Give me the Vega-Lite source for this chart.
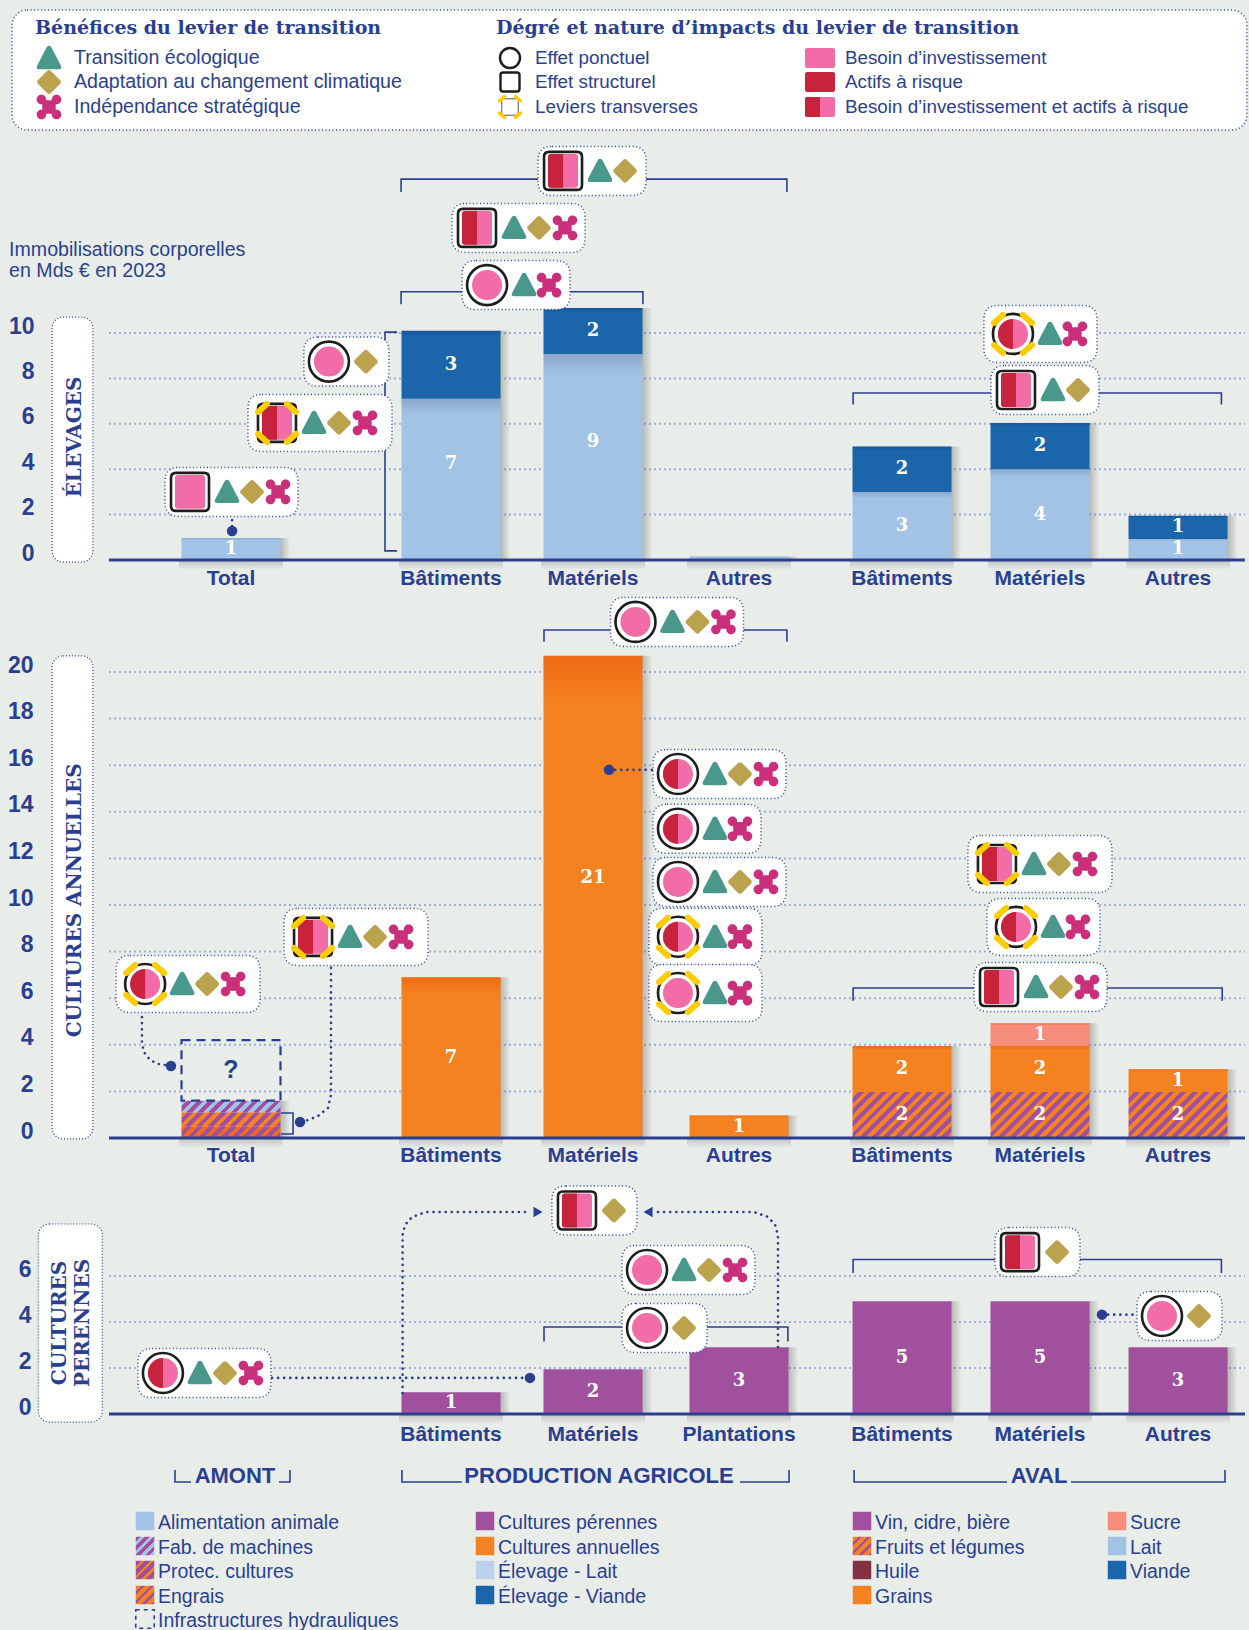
{"$schema":"https://vega.github.io/schema/vega-lite/v6.json","background":"#e9edea","padding":0,"spacing":0,"bounds":"flush","config":{"view":{"stroke":null},"legend":{"disable":true},"point":{"opacity":1},"square":{"opacity":1},"text":{"font":"Liberation Sans","fill":"#2a3f8f"}},
"datasets":{
"cadreH":[{"col":-0.0803,"end":3.377,"row":-0.6,"bas":3.92}],
"legendeHaut":[{"col":0,"row":0,"label":"Bénéfices du levier de transition","sym":"titre"},{"col":1,"row":0,"label":"Dégré et nature d’impacts du levier de transition","sym":"titre"},{"col":0,"row":1,"label":"Transition écologique","sym":"eco"},{"col":0,"row":2,"label":"Adaptation au changement climatique","sym":"adapt"},{"col":0,"row":3,"label":"Indépendance stratégique","sym":"indep"},{"col":1,"row":1,"label":"Effet ponctuel","sym":"ponctuel"},{"col":1,"row":2,"label":"Effet structurel","sym":"structurel"},{"col":1,"row":3,"label":"Leviers transverses","sym":"transverse"},{"col":2,"row":1,"label":"Besoin d’investissement","sym":"invest"},{"col":2,"row":2,"label":"Actifs à risque","sym":"risque"},{"col":2,"row":3,"label":"Besoin d’investissement et actifs à risque","sym":"mixte"}],
"noteE":[{"t":"Immobilisations corporelles","pos":-0.934,"val":13.66},{"t":"en Mds € en 2023","pos":-0.934,"val":12.73}],
"ticksE":[{"val":2,"pos":-0.5,"end":6.5},{"val":4,"pos":-0.5,"end":6.5},{"val":6,"pos":-0.5,"end":6.5},{"val":8,"pos":-0.5,"end":6.5},{"val":10,"pos":-0.5,"end":6.5}],
"ticksA":[{"val":2,"pos":-0.5,"end":6.5},{"val":4,"pos":-0.5,"end":6.5},{"val":6,"pos":-0.5,"end":6.5},{"val":8,"pos":-0.5,"end":6.5},{"val":10,"pos":-0.5,"end":6.5},{"val":12,"pos":-0.5,"end":6.5},{"val":14,"pos":-0.5,"end":6.5},{"val":16,"pos":-0.5,"end":6.5},{"val":18,"pos":-0.5,"end":6.5},{"val":20,"pos":-0.5,"end":6.5}],
"ticksP":[{"val":2,"pos":-0.5,"end":6.5},{"val":4,"pos":-0.5,"end":6.5},{"val":6,"pos":-0.5,"end":6.5}],
"axe":[{"val":0,"pos":-0.5,"end":6.5}],
"cadreE":[{"pos":-0.747,"end":-0.57,"val":-0.09,"top":10.7}],
"cadreA":[{"pos":-0.747,"end":-0.57,"val":-0.04,"top":20.69}],
"cadreP":[{"pos":-0.807,"end":-0.529,"val":-0.35,"top":8.26}],
"titreE":[{"t":"ÉLEVAGES","pos":-0.6475,"val":5.42}],
"titreA":[{"t":"CULTURES ANNUELLES","pos":-0.6475,"val":10.2}],
"titreP":[{"t":"CULTURES","pos":-0.713,"val":3.96},{"t":"PERENNES","pos":-0.611,"val":3.96}],
"barsE":[{"pos":0,"series":"Alimentation animale","k":1,"val":0.97,"label":"1"},{"pos":1,"series":"Élevage - Lait","k":1,"val":7.1,"label":"7"},{"pos":1,"series":"Élevage - Viande","k":2,"val":3,"label":"3"},{"pos":2,"series":"Élevage - Lait","k":1,"val":9.07,"label":"9"},{"pos":2,"series":"Élevage - Viande","k":2,"val":2.03,"label":"2"},{"pos":3,"series":"Élevage - Lait","k":1,"val":0.15,"label":""},{"pos":4,"series":"Lait","k":1,"val":3,"label":"3"},{"pos":4,"series":"Viande","k":2,"val":2,"label":"2"},{"pos":5,"series":"Lait","k":1,"val":4,"label":"4"},{"pos":5,"series":"Viande","k":2,"val":2.03,"label":"2"},{"pos":6,"series":"Lait","k":1,"val":0.93,"label":"1"},{"pos":6,"series":"Viande","k":2,"val":1.02,"label":"1"}],
"barsA":[{"pos":0,"series":"Engrais","k":1,"val":0.5,"label":""},{"pos":0,"series":"Protec. cultures","k":2,"val":0.6,"label":""},{"pos":0,"series":"Fab. de machines","k":3,"val":0.5,"label":""},{"pos":0,"series":"Infrastructures hydrauliques","k":4,"val":2.6,"label":"?"},{"pos":1,"series":"Cultures annuelles","k":1,"val":6.9,"label":"7"},{"pos":2,"series":"Cultures annuelles","k":1,"val":20.7,"label":"21"},{"pos":3,"series":"Cultures annuelles","k":1,"val":0.97,"label":"1"},{"pos":4,"series":"Fruits et légumes","k":1,"val":1.97,"label":"2"},{"pos":4,"series":"Grains","k":2,"val":1.98,"label":"2"},{"pos":5,"series":"Fruits et légumes","k":1,"val":1.97,"label":"2"},{"pos":5,"series":"Grains","k":2,"val":1.98,"label":"2"},{"pos":5,"series":"Sucre","k":3,"val":0.97,"label":"1"},{"pos":6,"series":"Fruits et légumes","k":1,"val":1.97,"label":"2"},{"pos":6,"series":"Grains","k":2,"val":0.98,"label":"1"}],
"barsP":[{"pos":1,"series":"Cultures pérennes","k":1,"val":0.95,"label":"1"},{"pos":2,"series":"Cultures pérennes","k":1,"val":1.95,"label":"2"},{"pos":3,"series":"Cultures pérennes","k":1,"val":2.9,"label":"3"},{"pos":4,"series":"Vin, cidre, bière","k":1,"val":4.9,"label":"5"},{"pos":5,"series":"Vin, cidre, bière","k":1,"val":4.9,"label":"5"},{"pos":6,"series":"Vin, cidre, bière","k":1,"val":2.9,"label":"3"}],
"catsE":[{"pos":0,"val":0,"name":"Total"},{"pos":1,"val":0,"name":"Bâtiments"},{"pos":2,"val":0,"name":"Matériels"},{"pos":3,"val":0,"name":"Autres"},{"pos":4,"val":0,"name":"Bâtiments"},{"pos":5,"val":0,"name":"Matériels"},{"pos":6,"val":0,"name":"Autres"}],
"catsP":[{"pos":1,"val":0,"name":"Bâtiments"},{"pos":2,"val":0,"name":"Matériels"},{"pos":3,"val":0,"name":"Plantations"},{"pos":4,"val":0,"name":"Bâtiments"},{"pos":5,"val":0,"name":"Matériels"},{"pos":6,"val":0,"name":"Autres"}],
"badgesE":[{"effect":"structurel","nature":"mixte","transverse":false,"kind":"n2","pos":1.789,"val":17.14,"b1":"eco","b2":"adapt"},{"effect":"structurel","nature":"mixte","transverse":false,"kind":"n3","pos":1.183,"val":14.63,"b1":"eco","b2":"adapt","b3":"indep"},{"effect":"ponctuel","nature":"invest","transverse":false,"kind":"n2","pos":1.254,"val":12.11,"b1":"eco","b2":"indep"},{"effect":"ponctuel","nature":"invest","transverse":false,"kind":"n1","pos":0.445,"val":8.74,"b1":"adapt"},{"effect":"structurel","nature":"mixte","transverse":true,"kind":"n3t","pos":0.209,"val":6.04,"b1":"eco","b2":"adapt","b3":"indep"},{"effect":"structurel","nature":"invest","transverse":false,"kind":"n3","pos":-0.168,"val":3,"b1":"eco","b2":"adapt","b3":"indep"},{"effect":"ponctuel","nature":"mixte","transverse":true,"kind":"n2t","pos":4.804,"val":9.96,"b1":"eco","b2":"indep"},{"effect":"structurel","nature":"mixte","transverse":false,"kind":"n2","pos":4.826,"val":7.49,"b1":"eco","b2":"adapt"}],
"badgesA":[{"effect":"ponctuel","nature":"invest","transverse":false,"kind":"n3","pos":2.291,"val":22.15,"b1":"eco","b2":"adapt","b3":"indep"},{"effect":"ponctuel","nature":"mixte","transverse":false,"kind":"n3","pos":2.582,"val":15.62,"b1":"eco","b2":"adapt","b3":"indep"},{"effect":"ponctuel","nature":"mixte","transverse":false,"kind":"n2","pos":2.582,"val":13.27,"b1":"eco","b2":"indep"},{"effect":"ponctuel","nature":"invest","transverse":false,"kind":"n3","pos":2.582,"val":10.99,"b1":"eco","b2":"adapt","b3":"indep"},{"effect":"ponctuel","nature":"mixte","transverse":true,"kind":"n2t","pos":2.582,"val":8.64,"b1":"eco","b2":"indep"},{"effect":"ponctuel","nature":"invest","transverse":true,"kind":"n2t","pos":2.582,"val":6.22,"b1":"eco","b2":"indep"},{"effect":"structurel","nature":"mixte","transverse":true,"kind":"n3t","pos":4.688,"val":11.76,"b1":"eco","b2":"adapt","b3":"indep"},{"effect":"ponctuel","nature":"mixte","transverse":true,"kind":"n2t","pos":4.826,"val":9.06,"b1":"eco","b2":"indep"},{"effect":"structurel","nature":"mixte","transverse":false,"kind":"n3","pos":4.703,"val":6.48,"b1":"eco","b2":"adapt","b3":"indep"},{"effect":"ponctuel","nature":"mixte","transverse":true,"kind":"n3t","pos":-0.352,"val":6.61,"b1":"eco","b2":"adapt","b3":"indep"},{"effect":"structurel","nature":"mixte","transverse":true,"kind":"n3t","pos":0.373,"val":8.63,"b1":"eco","b2":"adapt","b3":"indep"}],
"badgesP":[{"effect":"structurel","nature":"mixte","transverse":false,"kind":"n1","pos":1.887,"val":8.85,"b1":"adapt"},{"effect":"ponctuel","nature":"invest","transverse":false,"kind":"n3","pos":2.37,"val":6.26,"b1":"eco","b2":"adapt","b3":"indep"},{"effect":"ponctuel","nature":"invest","transverse":false,"kind":"n1","pos":2.37,"val":3.74,"b1":"adapt"},{"effect":"ponctuel","nature":"mixte","transverse":false,"kind":"n3","pos":-0.279,"val":1.78,"b1":"eco","b2":"adapt","b3":"indep"},{"effect":"structurel","nature":"mixte","transverse":false,"kind":"n1","pos":4.855,"val":7.04,"b1":"adapt"},{"effect":"ponctuel","nature":"invest","transverse":false,"kind":"n1","pos":5.884,"val":4.26,"b1":"adapt"}],
"brE":[{"id":"a","n":1,"pos":0.773,"val":16.21},{"id":"a","n":2,"pos":0.773,"val":16.78},{"id":"a","n":3,"pos":3.294,"val":16.78},{"id":"a","n":4,"pos":3.294,"val":16.21},{"id":"b","n":1,"pos":0.773,"val":11.27},{"id":"b","n":2,"pos":0.773,"val":11.82},{"id":"b","n":3,"pos":2.342,"val":11.82},{"id":"b","n":4,"pos":2.342,"val":11.27},{"id":"c","n":1,"pos":3.7,"val":6.85},{"id":"c","n":2,"pos":3.7,"val":7.36},{"id":"c","n":3,"pos":6.324,"val":7.36},{"id":"c","n":4,"pos":6.324,"val":6.85},{"id":"d","n":1,"pos":0.755,"val":10.04},{"id":"d","n":2,"pos":0.7,"val":10.04},{"id":"d","n":3,"pos":0.7,"val":0.4},{"id":"d","n":4,"pos":0.755,"val":0.4}],
"brA":[{"id":"a","n":1,"pos":1.655,"val":21.3},{"id":"a","n":2,"pos":1.655,"val":21.8},{"id":"a","n":3,"pos":3.294,"val":21.8},{"id":"a","n":4,"pos":3.294,"val":21.3},{"id":"b","n":1,"pos":3.7,"val":5.89},{"id":"b","n":2,"pos":3.7,"val":6.44},{"id":"b","n":3,"pos":6.33,"val":6.44},{"id":"b","n":4,"pos":6.33,"val":5.89},{"id":"c","n":1,"pos":0.227,"val":1.07},{"id":"c","n":2,"pos":0.282,"val":1.07},{"id":"c","n":3,"pos":0.282,"val":0.17},{"id":"c","n":4,"pos":0.227,"val":0.17}],
"brP":[{"id":"a","n":1,"pos":1.655,"val":3.15},{"id":"a","n":2,"pos":1.655,"val":3.78},{"id":"a","n":3,"pos":3.3,"val":3.78},{"id":"a","n":4,"pos":3.3,"val":3.15},{"id":"b","n":1,"pos":3.7,"val":6.13},{"id":"b","n":2,"pos":3.7,"val":6.72},{"id":"b","n":3,"pos":6.324,"val":6.72},{"id":"b","n":4,"pos":6.324,"val":6.13}],
"linkE":[{"id":"a","n":1,"pos":0.005,"val":1.76},{"id":"a","n":2,"pos":0.005,"val":1.28}],
"linkA":[{"id":"a","n":1,"pos":-0.365,"val":5.19},{"id":"a","n":2,"pos":-0.365,"val":4.08},{"id":"a","n":3,"pos":-0.357,"val":3.69},{"id":"a","n":4,"pos":-0.332,"val":3.35},{"id":"a","n":5,"pos":-0.299,"val":3.18},{"id":"a","n":6,"pos":-0.246,"val":3.09},{"id":"b","n":1,"pos":0.4545,"val":7.3},{"id":"b","n":2,"pos":0.4545,"val":1.85},{"id":"b","n":3,"pos":0.441,"val":1.29},{"id":"b","n":4,"pos":0.395,"val":0.94},{"id":"b","n":5,"pos":0.35,"val":0.77},{"id":"b","n":6,"pos":0.314,"val":0.69},{"id":"c","n":1,"pos":2.11,"val":15.8},{"id":"c","n":2,"pos":2.41,"val":15.8}],
"linkP":[{"id":"a","n":1,"pos":0.186,"val":1.57},{"id":"a","n":2,"pos":1.556,"val":1.57},{"id":"b","n":1,"pos":0.78,"val":0.91},{"id":"b","n":2,"pos":0.78,"val":7.78},{"id":"b","n":3,"pos":0.791,"val":8.22},{"id":"b","n":4,"pos":0.823,"val":8.57},{"id":"b","n":5,"pos":0.886,"val":8.78},{"id":"b","n":6,"pos":1.556,"val":8.78},{"id":"c","n":1,"pos":3.239,"val":2.91},{"id":"c","n":2,"pos":3.239,"val":7.78},{"id":"c","n":3,"pos":3.221,"val":8.22},{"id":"c","n":4,"pos":3.178,"val":8.57},{"id":"c","n":5,"pos":3.092,"val":8.78},{"id":"c","n":6,"pos":2.425,"val":8.78},{"id":"d","n":1,"pos":5.449,"val":4.32},{"id":"d","n":2,"pos":5.674,"val":4.32}],
"dotE":[{"pos":0.005,"val":1.28,"mk":"circle"}],
"dotA":[{"pos":-0.246,"val":3.09,"mk":"circle"},{"pos":0.314,"val":0.69,"mk":"circle"},{"pos":2.11,"val":15.8,"mk":"circle"}],
"dotP":[{"pos":1.556,"val":1.57,"mk":"circle"},{"pos":5.449,"val":4.32,"mk":"circle"},{"pos":1.613,"val":8.78,"mk":"triangle-right"},{"pos":2.377,"val":8.78,"mk":"triangle-left"}],
"filieres":[{"pos":0.018,"val":0.5,"name":"AMONT"},{"pos":2.041,"val":0.5,"name":"PRODUCTION AGRICOLE"},{"pos":4.993,"val":0.5,"name":"AVAL"}],
"brF":[{"id":"a","n":1,"pos":-0.2295,"val":1},{"id":"a","n":2,"pos":-0.2295,"val":0},{"id":"a","n":3,"pos":-0.164,"val":0},{"id":"b","n":1,"pos":0.218,"val":0},{"id":"b","n":2,"pos":0.268,"val":0},{"id":"b","n":3,"pos":0.268,"val":1},{"id":"c","n":1,"pos":0.777,"val":1},{"id":"c","n":2,"pos":0.777,"val":0},{"id":"c","n":3,"pos":1.077,"val":0},{"id":"d","n":1,"pos":3.006,"val":0},{"id":"d","n":2,"pos":3.307,"val":0},{"id":"d","n":3,"pos":3.307,"val":1},{"id":"e","n":1,"pos":3.706,"val":1},{"id":"e","n":2,"pos":3.706,"val":0},{"id":"e","n":3,"pos":4.761,"val":0},{"id":"f","n":1,"pos":5.225,"val":0},{"id":"f","n":2,"pos":6.331,"val":0},{"id":"f","n":3,"pos":6.331,"val":1}],
"legendeBas":[{"col":0,"row":0,"series":"Alimentation animale"},{"col":0,"row":1,"series":"Fab. de machines"},{"col":0,"row":2,"series":"Protec. cultures"},{"col":0,"row":3,"series":"Engrais"},{"col":0,"row":4,"series":"Infrastructures hydrauliques"},{"col":1,"row":0,"series":"Cultures pérennes"},{"col":1,"row":1,"series":"Cultures annuelles"},{"col":1,"row":2,"series":"Élevage - Lait"},{"col":1,"row":3,"series":"Élevage - Viande"},{"col":2,"row":0,"series":"Vin, cidre, bière"},{"col":2,"row":1,"series":"Fruits et légumes"},{"col":2,"row":2,"series":"Huile"},{"col":2,"row":3,"series":"Grains"},{"col":3,"row":0,"series":"Sucre"},{"col":3,"row":1,"series":"Lait"},{"col":3,"row":2,"series":"Viande"}]
},
"vconcat":[
{"width":1249,"height":140,"encoding":{"x":{"field":"col","type":"quantitative","axis":null,"scale":{"domain":[-0.1,0,1,2,3.4],"range":[3,49,510,820,1254],"nice":false,"zero":false}},"y":{"field":"row","type":"quantitative","axis":null,"scale":{"domain":[-1,0,1,2,3,4],"range":[-2,28,58,82,107,132],"nice":false,"zero":false}}},
"layer":[
{"data":{"name":"cadreH"},"mark":{"type":"rect","fill":"#fff","stroke":"#2a3f8f","strokeWidth":1.5,"strokeDash":[1,2.5],"cornerRadius":15},"encoding":{"x2":{"field":"end"},"y2":{"field":"bas"}}},
{"data":{"name":"legendeHaut"},"transform":[{"filter":"datum.sym==='titre'"}],"mark":{"type":"text","align":"left","dx":-14,"font":"DejaVu Serif","fontWeight":"bold","fontSize":19},"encoding":{"text":{"field":"label","type":"nominal"}}},
{"data":{"name":"legendeHaut"},"transform":[{"filter":"datum.sym!=='titre'&&datum.col===0"}],"mark":{"type":"text","align":"left","dx":25,"fontSize":19.6},"encoding":{"text":{"field":"label","type":"nominal"}}},
{"data":{"name":"legendeHaut"},"transform":[{"filter":"datum.sym!=='titre'&&datum.col>0"}],"mark":{"type":"text","align":"left","dx":25,"fontSize":18.8},"encoding":{"text":{"field":"label","type":"nominal"}}},
{"data":{"name":"legendeHaut"},"transform":[{"filter":"datum.sym==='eco'||datum.sym==='adapt'||datum.sym==='indep'"}],"mark":{"type":"point","filled":true,"size":784},"encoding":{"color":{"field":"sym","type":"nominal","scale":{"domain":["eco","adapt","indep"],"range":["#4a978c","#bba24d","#c92f7a"]}},"shape":{"field":"sym","type":"nominal","scale":{"domain":["eco","adapt","indep","ponctuel","structurel","n1","n2","n3","n2t","n3t"],"range":["M-0.15,-0.8 Q0,-0.95 0.15,-0.8 L0.85,0.55 Q0.95,0.8 0.7,0.8 L-0.7,0.8 Q-0.95,0.8 -0.85,0.55 Z","M-0.12,-0.8 Q0,-0.9 0.12,-0.8 L0.8,-0.12 Q0.9,0 0.8,0.12 L0.12,0.8 Q0,0.9 -0.12,0.8 L-0.8,0.12 Q-0.9,0 -0.8,-0.12 Z","M-0.48,-0.48 H0.48 V0.48 H-0.48 Z M0.2,-0.54 a0.34,0.34 0 1 1 0.68,0 a0.34,0.34 0 1 1 -0.68,0 Z M-0.88,-0.54 a0.34,0.34 0 1 1 0.68,0 a0.34,0.34 0 1 1 -0.68,0 Z M0.2,0.54 a0.34,0.34 0 1 1 0.68,0 a0.34,0.34 0 1 1 -0.68,0 Z M-0.88,0.54 a0.34,0.34 0 1 1 0.68,0 a0.34,0.34 0 1 1 -0.68,0 Z","circle","M-0.7,-0.95 H0.7 Q0.95,-0.95 0.95,-0.7 V0.7 Q0.95,0.95 0.7,0.95 H-0.7 Q-0.95,0.95 -0.95,0.7 V-0.7 Q-0.95,-0.95 -0.7,-0.95 Z","M-0.22,-0.49 H0.92 Q1.2,-0.49 1.2,-0.21 V0.21 Q1.2,0.49 0.92,0.49 H-0.22 Q-0.5,0.49 -0.5,0.21 V-0.21 Q-0.5,-0.49 -0.22,-0.49 Z","M-0.22,-0.49 H1.38 Q1.66,-0.49 1.66,-0.21 V0.21 Q1.66,0.49 1.38,0.49 H-0.22 Q-0.5,0.49 -0.5,0.21 V-0.21 Q-0.5,-0.49 -0.22,-0.49 Z","M-0.22,-0.49 H1.88 Q2.16,-0.49 2.16,-0.21 V0.21 Q2.16,0.49 1.88,0.49 H-0.22 Q-0.5,0.49 -0.5,0.21 V-0.21 Q-0.5,-0.49 -0.22,-0.49 Z","M-0.3,-0.57 H1.4 Q1.68,-0.57 1.68,-0.29 V0.29 Q1.68,0.57 1.4,0.57 H-0.3 Q-0.58,0.57 -0.58,0.29 V-0.29 Q-0.58,-0.57 -0.3,-0.57 Z","M-0.3,-0.57 H2.02 Q2.3,-0.57 2.3,-0.29 V0.29 Q2.3,0.57 2.02,0.57 H-0.3 Q-0.58,0.57 -0.58,0.29 V-0.29 Q-0.58,-0.57 -0.3,-0.57 Z"]}}}},
{"data":{"name":"legendeHaut"},"transform":[{"filter":"datum.sym==='ponctuel'||datum.sym==='structurel'"}],"mark":{"type":"point","filled":true,"size":400,"fill":"#fff","stroke":"#1d1d1b","strokeWidth":2.4},"encoding":{"shape":{"field":"sym","type":"nominal"}}},
{"data":{"name":"legendeHaut"},"transform":[{"filter":"datum.sym==='transverse'"}],"mark":{"type":"point","filled":true,"size":300,"fill":"#fff","stroke":"#555555","strokeWidth":1,"shape":"M-0.95,-0.95 H0.95 V0.95 H-0.95 Z"}},
{"data":{"name":"legendeHaut"},"transform":[{"filter":"datum.sym==='transverse'"}],"mark":{"type":"point","filled":false,"size":484,"stroke":"#ffcc00","strokeWidth":3.5,"strokeCap":"round","shape":"M-0.95,-0.55 L-0.5,-0.95 M0.5,-0.95 L0.95,-0.55 M0.95,0.55 L0.5,0.95 M-0.5,0.95 L-0.95,0.55"}},
{"data":{"name":"legendeHaut"},"transform":[{"filter":"datum.sym==='invest'||datum.sym==='mixte'"}],"mark":{"type":"point","filled":true,"size":400,"fill":"#f26ca7","shape":"M-1.3,-1 H1.3 Q1.5,-1 1.5,-0.8 V0.8 Q1.5,1 1.3,1 H-1.3 Q-1.5,1 -1.5,0.8 V-0.8 Q-1.5,-1 -1.3,-1 Z"}},
{"data":{"name":"legendeHaut"},"transform":[{"filter":"datum.sym==='risque'"}],"mark":{"type":"point","filled":true,"size":400,"fill":"#c8233c","shape":"M-1.3,-1 H1.3 Q1.5,-1 1.5,-0.8 V0.8 Q1.5,1 1.3,1 H-1.3 Q-1.5,1 -1.5,0.8 V-0.8 Q-1.5,-1 -1.3,-1 Z"}},
{"data":{"name":"legendeHaut"},"transform":[{"filter":"datum.sym==='mixte'"}],"mark":{"type":"point","filled":true,"size":400,"fill":"#c8233c","shape":"M0,-1 H-1.3 Q-1.5,-1 -1.5,-0.8 V0.8 Q-1.5,1 -1.3,1 H0 Z"}}
]},
{"width":1249,"height":460,"encoding":{"x":{"field":"pos","type":"quantitative","axis":null,"scale":{"domain":[-1,-0.5,0,1,2,3,4,5,6,6.5],"range":[-13,109,231,451,593,739,902,1040,1178,1249],"nice":false,"zero":false}},"y":{"field":"val","type":"quantitative","scale":{"domain":[0,10],"range":[420,193],"nice":false,"zero":false},"axis":{"values":[0,2,4,6,8,10],"title":null,"grid":false,"domain":false,"ticks":false,"offset":-34,"labelPadding":0,"labelOffset":-7,"labelFont":"Liberation Sans","labelFontWeight":"bold","labelFontSize":23,"labelColor":"#2a3f8f","labelFlush":false,"labelOverlap":false}}},
"layer":[
{"data":{"name":"noteE"},"mark":{"type":"text","align":"left","fontSize":19.6},"encoding":{"text":{"field":"t","type":"nominal"}}},
{"data":{"name":"ticksE"},"mark":{"type":"rule","stroke":"#a0aedd","strokeWidth":2,"strokeDash":[2,3]},"encoding":{"x2":{"field":"end"}}},
{"data":{"name":"cadreE"},"mark":{"type":"rect","fill":"#fff","stroke":"#2a3f8f","strokeWidth":1.2,"strokeDash":[1,2],"cornerRadius":11},"encoding":{"x2":{"field":"end"},"y2":{"field":"top"}}},
{"data":{"name":"titreE"},"mark":{"type":"text","angle":270,"font":"DejaVu Serif","fontWeight":"bold","fontSize":20},"encoding":{"text":{"field":"t","type":"nominal"}}},
{"data":{"name":"catsE"},"mark":{"type":"rect","width":104,"height":10,"yOffset":5,"fill":{"gradient":"linear","x1":0,"y1":0,"x2":0,"y2":1,"stops":[{"offset":0,"color":"rgba(70,70,60,0.25)"},{"offset":1,"color":"rgba(70,70,60,0)"}]}}},
{"data":{"name":"barsE"},"mark":{"type":"bar","size":119,"fill":{"gradient":"linear","x1":0,"y1":0,"x2":1,"y2":0,"stops":[{"offset":0,"color":"rgba(70,70,60,0)"},{"offset":0.915,"color":"rgba(70,70,60,0)"},{"offset":0.915,"color":"rgba(70,70,60,0.32)"},{"offset":1,"color":"rgba(70,70,60,0)"}]}},"encoding":{"y":{"field":"val","stack":"zero"},"order":{"field":"k"},"detail":{"field":"series"}}},
{"data":{"name":"barsE"},"mark":{"type":"bar","size":99},"encoding":{"y":{"field":"val","stack":"zero"},"order":{"field":"k"},"detail":{"field":"series"},"fill":{"field":"series","type":"nominal","scale":{"domain":["Alimentation animale","Élevage - Lait","Élevage - Viande","Lait","Viande","Cultures annuelles","Grains","Sucre","Cultures pérennes","Vin, cidre, bière","Huile","Infrastructures hydrauliques","Fruits et légumes","Engrais","Protec. cultures","Fab. de machines"],"range":["#a3c3e6","#a3c3e6","#1b65aa","#a3c3e6","#1b65aa","#f58220","#f58220","#f68c7a","#a0509d","#a0509d","#823343","transparent","#f58220","#f58220","#a0509d","#a0509d"]}}}},
{"data":{"name":"barsE"},"mark":{"type":"bar","size":99,"fill":{"gradient":"linear","x1":0,"y1":0,"x2":0,"y2":1,"stops":[{"offset":0,"color":"rgba(0,0,40,0.14)"},{"offset":0.1,"color":"rgba(0,0,40,0)"},{"offset":1,"color":"rgba(0,0,40,0)"}]}},"encoding":{"y":{"field":"val","stack":"zero"},"order":{"field":"k"},"detail":{"field":"series"}}},
{"data":{"name":"axe"},"mark":{"type":"rule","stroke":"#2a3f8f","strokeWidth":3},"encoding":{"x2":{"field":"end"}}},
{"data":{"name":"brE"},"mark":{"type":"line","stroke":"#2a3f8f","strokeWidth":1.6},"encoding":{"detail":{"field":"id"},"order":{"field":"n"}}},
{"data":{"name":"linkE"},"mark":{"type":"line","stroke":"#2a3f8f","strokeWidth":2.6,"strokeDash":[0.1,6],"strokeCap":"round"},"encoding":{"detail":{"field":"id"},"order":{"field":"n"}}},
{"data":{"name":"dotE"},"mark":{"type":"point","filled":true,"size":110,"fill":"#2a3f8f"},"encoding":{"shape":{"field":"mk","type":"nominal","scale":null}}},
{"data":{"name":"badgesE"},"mark":{"type":"point","filled":true,"size":10000,"fill":"#fff","stroke":"#2a3f8f","strokeWidth":1.5,"strokeDash":[1,2.5]},"encoding":{"shape":{"field":"kind","type":"nominal"}}},
{"data":{"name":"badgesE"},"mark":{"type":"point","filled":true,"size":1600,"fill":"#fff","stroke":"#1d1d1b","strokeWidth":2.6},"encoding":{"shape":{"field":"effect","type":"nominal"}}},
{"data":{"name":"badgesE"},"transform":[{"filter":"datum.effect==='ponctuel'"}],"mark":{"type":"point","filled":true,"size":900,"fill":"#f26ca7","shape":"circle"}},
{"data":{"name":"badgesE"},"transform":[{"filter":"datum.effect==='structurel'"}],"mark":{"type":"point","filled":true,"size":900,"fill":"#f26ca7","shape":"M-0.8,-1.13 H0.8 Q1,-1.13 1,-0.93 V0.93 Q1,1.13 0.8,1.13 H-0.8 Q-1,1.13 -1,0.93 V-0.93 Q-1,-1.13 -0.8,-1.13 Z"}},
{"data":{"name":"badgesE"},"transform":[{"filter":"datum.effect==='ponctuel'&&datum.nature==='mixte'"}],"mark":{"type":"point","filled":true,"size":900,"fill":"#c8233c","shape":"M0,-1 A1,1 0 0 0 0,1 Z"}},
{"data":{"name":"badgesE"},"transform":[{"filter":"datum.effect==='structurel'&&datum.nature==='mixte'"}],"mark":{"type":"point","filled":true,"size":900,"fill":"#c8233c","shape":"M0,-1.13 H-0.8 Q-1,-1.13 -1,-0.93 V0.93 Q-1,1.13 -0.8,1.13 H0 Z"}},
{"data":{"name":"badgesE"},"transform":[{"filter":"datum.transverse"}],"mark":{"type":"point","filled":false,"size":1600,"stroke":"#ffcc00","strokeWidth":6,"strokeCap":"round","shape":"M-0.95,-0.55 L-0.5,-0.95 M0.5,-0.95 L0.95,-0.55 M0.95,0.55 L0.5,0.95 M-0.5,0.95 L-0.95,0.55"}},
{"data":{"name":"badgesE"},"mark":{"type":"point","filled":true,"size":784,"xOffset":37},"encoding":{"shape":{"field":"b1","type":"nominal"},"color":{"field":"b1","type":"nominal"}}},
{"data":{"name":"badgesE"},"transform":[{"filter":"datum.b2"}],"mark":{"type":"point","filled":true,"size":784,"xOffset":62},"encoding":{"shape":{"field":"b2","type":"nominal"},"color":{"field":"b2","type":"nominal"}}},
{"data":{"name":"badgesE"},"transform":[{"filter":"datum.b3"}],"mark":{"type":"point","filled":true,"size":784,"xOffset":88},"encoding":{"shape":{"field":"b3","type":"nominal"},"color":{"field":"b3","type":"nominal"}}},
{"data":{"name":"barsE"},"mark":{"type":"text","fill":"#fff","font":"DejaVu Serif","fontWeight":"bold","fontSize":18},"encoding":{"y":{"field":"val","stack":"zero","bandPosition":0.5},"order":{"field":"k"},"detail":{"field":"series"},"text":{"condition":{"test":"datum.val>7","value":""},"field":"label","type":"nominal"}}},
{"data":{"name":"barsE"},"transform":[{"filter":"datum.val>7"}],"mark":{"type":"text","fill":"#fff","dy":-15,"font":"DejaVu Serif","fontWeight":"bold","fontSize":18},"encoding":{"y":{"field":"val","stack":"zero","bandPosition":0.5},"order":{"field":"k"},"detail":{"field":"series"},"text":{"field":"label","type":"nominal"}}},
{"data":{"name":"catsE"},"mark":{"type":"text","dy":19,"fontWeight":"bold","fontSize":21},"encoding":{"text":{"field":"name","type":"nominal"}}}
]},
{"width":1249,"height":570,"encoding":{"x":{"field":"pos","type":"quantitative","axis":null,"scale":{"domain":[-1,-0.5,0,1,2,3,4,5,6,6.5],"range":[-13,109,231,451,593,739,902,1040,1178,1249],"nice":false,"zero":false}},"y":{"field":"val","type":"quantitative","scale":{"domain":[0,20],"range":[538,72],"nice":false,"zero":false},"axis":{"values":[0,2,4,6,8,10,12,14,16,18,20],"title":null,"grid":false,"domain":false,"ticks":false,"offset":-33,"labelPadding":0,"labelOffset":-7,"labelFont":"Liberation Sans","labelFontWeight":"bold","labelFontSize":23,"labelColor":"#2a3f8f","labelFlush":false,"labelOverlap":false}}},
"layer":[
{"data":{"name":"ticksA"},"mark":{"type":"rule","stroke":"#a0aedd","strokeWidth":2,"strokeDash":[2,3]},"encoding":{"x2":{"field":"end"}}},
{"data":{"name":"cadreA"},"mark":{"type":"rect","fill":"#fff","stroke":"#2a3f8f","strokeWidth":1.2,"strokeDash":[1,2],"cornerRadius":11},"encoding":{"x2":{"field":"end"},"y2":{"field":"top"}}},
{"data":{"name":"titreA"},"mark":{"type":"text","angle":270,"font":"DejaVu Serif","fontWeight":"bold","fontSize":20},"encoding":{"text":{"field":"t","type":"nominal"}}},
{"data":{"name":"catsE"},"mark":{"type":"rect","width":104,"height":10,"yOffset":5,"fill":{"gradient":"linear","x1":0,"y1":0,"x2":0,"y2":1,"stops":[{"offset":0,"color":"rgba(70,70,60,0.25)"},{"offset":1,"color":"rgba(70,70,60,0)"}]}}},
{"data":{"name":"barsA"},"transform":[{"filter":"datum.k<4"}],"mark":{"type":"bar","size":119,"fill":{"gradient":"linear","x1":0,"y1":0,"x2":1,"y2":0,"stops":[{"offset":0,"color":"rgba(70,70,60,0)"},{"offset":0.915,"color":"rgba(70,70,60,0)"},{"offset":0.915,"color":"rgba(70,70,60,0.32)"},{"offset":1,"color":"rgba(70,70,60,0)"}]}},"encoding":{"y":{"field":"val","stack":"zero"},"order":{"field":"k"},"detail":{"field":"series"}}},
{"data":{"name":"barsA"},"mark":{"type":"bar","size":99,"strokeWidth":2.2,"strokeDash":[9,6]},"encoding":{"y":{"field":"val","stack":"zero"},"order":{"field":"k"},"detail":{"field":"series"},"stroke":{"condition":{"test":"datum.series==='Infrastructures hydrauliques'","value":"#2a3f8f"},"value":null},"fill":{"condition":[
{"test":"datum.series==='Fruits et légumes'","value":{"gradient":"linear","x1":0,"y1":0,"x2":1.2045,"y2":0.5596,"stops":[{"offset":0,"color":"#f58220"},{"offset":0.04,"color":"#f58220"},{"offset":0.04,"color":"#a0509d"},{"offset":0.08,"color":"#a0509d"},{"offset":0.08,"color":"#f58220"},{"offset":0.12,"color":"#f58220"},{"offset":0.12,"color":"#a0509d"},{"offset":0.16,"color":"#a0509d"},{"offset":0.16,"color":"#f58220"},{"offset":0.2,"color":"#f58220"},{"offset":0.2,"color":"#a0509d"},{"offset":0.24,"color":"#a0509d"},{"offset":0.24,"color":"#f58220"},{"offset":0.28,"color":"#f58220"},{"offset":0.28,"color":"#a0509d"},{"offset":0.32,"color":"#a0509d"},{"offset":0.32,"color":"#f58220"},{"offset":0.36,"color":"#f58220"},{"offset":0.36,"color":"#a0509d"},{"offset":0.4,"color":"#a0509d"},{"offset":0.4,"color":"#f58220"},{"offset":0.44,"color":"#f58220"},{"offset":0.44,"color":"#a0509d"},{"offset":0.48,"color":"#a0509d"},{"offset":0.48,"color":"#f58220"},{"offset":0.52,"color":"#f58220"},{"offset":0.52,"color":"#a0509d"},{"offset":0.56,"color":"#a0509d"},{"offset":0.56,"color":"#f58220"},{"offset":0.6,"color":"#f58220"},{"offset":0.6,"color":"#a0509d"},{"offset":0.64,"color":"#a0509d"},{"offset":0.64,"color":"#f58220"},{"offset":0.68,"color":"#f58220"},{"offset":0.68,"color":"#a0509d"},{"offset":0.72,"color":"#a0509d"},{"offset":0.72,"color":"#f58220"},{"offset":0.76,"color":"#f58220"},{"offset":0.76,"color":"#a0509d"},{"offset":0.8,"color":"#a0509d"},{"offset":0.8,"color":"#f58220"},{"offset":0.84,"color":"#f58220"},{"offset":0.84,"color":"#a0509d"},{"offset":0.88,"color":"#a0509d"},{"offset":0.88,"color":"#f58220"},{"offset":0.92,"color":"#f58220"},{"offset":0.92,"color":"#a0509d"},{"offset":0.96,"color":"#a0509d"},{"offset":0.96,"color":"#f58220"},{"offset":1,"color":"#f58220"}]}},
{"test":"datum.series==='Engrais'","value":{"gradient":"linear","x1":0,"y1":0,"x2":1.1026,"y2":0.13,"stops":[{"offset":0,"color":"#f26a1b"},{"offset":0.05,"color":"#f26a1b"},{"offset":0.05,"color":"#a0509d"},{"offset":0.1,"color":"#a0509d"},{"offset":0.1,"color":"#f26a1b"},{"offset":0.15,"color":"#f26a1b"},{"offset":0.15,"color":"#a0509d"},{"offset":0.2,"color":"#a0509d"},{"offset":0.2,"color":"#f26a1b"},{"offset":0.25,"color":"#f26a1b"},{"offset":0.25,"color":"#a0509d"},{"offset":0.3,"color":"#a0509d"},{"offset":0.3,"color":"#f26a1b"},{"offset":0.35,"color":"#f26a1b"},{"offset":0.35,"color":"#a0509d"},{"offset":0.4,"color":"#a0509d"},{"offset":0.4,"color":"#f26a1b"},{"offset":0.45,"color":"#f26a1b"},{"offset":0.45,"color":"#a0509d"},{"offset":0.5,"color":"#a0509d"},{"offset":0.5,"color":"#f26a1b"},{"offset":0.55,"color":"#f26a1b"},{"offset":0.55,"color":"#a0509d"},{"offset":0.6,"color":"#a0509d"},{"offset":0.6,"color":"#f26a1b"},{"offset":0.65,"color":"#f26a1b"},{"offset":0.65,"color":"#a0509d"},{"offset":0.7,"color":"#a0509d"},{"offset":0.7,"color":"#f26a1b"},{"offset":0.75,"color":"#f26a1b"},{"offset":0.75,"color":"#a0509d"},{"offset":0.8,"color":"#a0509d"},{"offset":0.8,"color":"#f26a1b"},{"offset":0.85,"color":"#f26a1b"},{"offset":0.85,"color":"#a0509d"},{"offset":0.9,"color":"#a0509d"},{"offset":0.9,"color":"#f26a1b"},{"offset":0.95,"color":"#f26a1b"},{"offset":0.95,"color":"#a0509d"},{"offset":1,"color":"#a0509d"}]}},
{"test":"datum.series==='Protec. cultures'","value":{"gradient":"linear","x1":0,"y1":0,"x2":1.1187,"y2":0.158,"stops":[{"offset":0,"color":"#f58220"},{"offset":0.05,"color":"#f58220"},{"offset":0.05,"color":"#a0509d"},{"offset":0.1,"color":"#a0509d"},{"offset":0.1,"color":"#f58220"},{"offset":0.15,"color":"#f58220"},{"offset":0.15,"color":"#a0509d"},{"offset":0.2,"color":"#a0509d"},{"offset":0.2,"color":"#f58220"},{"offset":0.25,"color":"#f58220"},{"offset":0.25,"color":"#a0509d"},{"offset":0.3,"color":"#a0509d"},{"offset":0.3,"color":"#f58220"},{"offset":0.35,"color":"#f58220"},{"offset":0.35,"color":"#a0509d"},{"offset":0.4,"color":"#a0509d"},{"offset":0.4,"color":"#f58220"},{"offset":0.45,"color":"#f58220"},{"offset":0.45,"color":"#a0509d"},{"offset":0.5,"color":"#a0509d"},{"offset":0.5,"color":"#f58220"},{"offset":0.55,"color":"#f58220"},{"offset":0.55,"color":"#a0509d"},{"offset":0.6,"color":"#a0509d"},{"offset":0.6,"color":"#f58220"},{"offset":0.65,"color":"#f58220"},{"offset":0.65,"color":"#a0509d"},{"offset":0.7,"color":"#a0509d"},{"offset":0.7,"color":"#f58220"},{"offset":0.75,"color":"#f58220"},{"offset":0.75,"color":"#a0509d"},{"offset":0.8,"color":"#a0509d"},{"offset":0.8,"color":"#f58220"},{"offset":0.85,"color":"#f58220"},{"offset":0.85,"color":"#a0509d"},{"offset":0.9,"color":"#a0509d"},{"offset":0.9,"color":"#f58220"},{"offset":0.95,"color":"#f58220"},{"offset":0.95,"color":"#a0509d"},{"offset":1,"color":"#a0509d"}]}},
{"test":"datum.series==='Fab. de machines'","value":{"gradient":"linear","x1":0,"y1":0,"x2":1.1026,"y2":0.13,"stops":[{"offset":0,"color":"#a3c3e6"},{"offset":0.05,"color":"#a3c3e6"},{"offset":0.05,"color":"#a0509d"},{"offset":0.1,"color":"#a0509d"},{"offset":0.1,"color":"#a3c3e6"},{"offset":0.15,"color":"#a3c3e6"},{"offset":0.15,"color":"#a0509d"},{"offset":0.2,"color":"#a0509d"},{"offset":0.2,"color":"#a3c3e6"},{"offset":0.25,"color":"#a3c3e6"},{"offset":0.25,"color":"#a0509d"},{"offset":0.3,"color":"#a0509d"},{"offset":0.3,"color":"#a3c3e6"},{"offset":0.35,"color":"#a3c3e6"},{"offset":0.35,"color":"#a0509d"},{"offset":0.4,"color":"#a0509d"},{"offset":0.4,"color":"#a3c3e6"},{"offset":0.45,"color":"#a3c3e6"},{"offset":0.45,"color":"#a0509d"},{"offset":0.5,"color":"#a0509d"},{"offset":0.5,"color":"#a3c3e6"},{"offset":0.55,"color":"#a3c3e6"},{"offset":0.55,"color":"#a0509d"},{"offset":0.6,"color":"#a0509d"},{"offset":0.6,"color":"#a3c3e6"},{"offset":0.65,"color":"#a3c3e6"},{"offset":0.65,"color":"#a0509d"},{"offset":0.7,"color":"#a0509d"},{"offset":0.7,"color":"#a3c3e6"},{"offset":0.75,"color":"#a3c3e6"},{"offset":0.75,"color":"#a0509d"},{"offset":0.8,"color":"#a0509d"},{"offset":0.8,"color":"#a3c3e6"},{"offset":0.85,"color":"#a3c3e6"},{"offset":0.85,"color":"#a0509d"},{"offset":0.9,"color":"#a0509d"},{"offset":0.9,"color":"#a3c3e6"},{"offset":0.95,"color":"#a3c3e6"},{"offset":0.95,"color":"#a0509d"},{"offset":1,"color":"#a0509d"}]}}
],"field":"series","type":"nominal"}}},
{"data":{"name":"barsA"},"mark":{"type":"bar","size":99},"encoding":{"y":{"field":"val","stack":"zero"},"order":{"field":"k"},"detail":{"field":"series"},"fill":{"condition":{"test":"datum.series==='Cultures annuelles'||datum.series==='Grains'||datum.series==='Sucre'","value":{"gradient":"linear","x1":0,"y1":0,"x2":0,"y2":1,"stops":[{"offset":0,"color":"rgba(230,70,0,0.4)"},{"offset":0.1,"color":"rgba(230,70,0,0)"},{"offset":1,"color":"rgba(230,70,0,0)"}]}},"value":"transparent"}}},
{"data":{"name":"axe"},"mark":{"type":"rule","stroke":"#2a3f8f","strokeWidth":3},"encoding":{"x2":{"field":"end"}}},
{"data":{"name":"brA"},"mark":{"type":"line","stroke":"#2a3f8f","strokeWidth":1.6},"encoding":{"detail":{"field":"id"},"order":{"field":"n"}}},
{"data":{"name":"linkA"},"mark":{"type":"line","stroke":"#2a3f8f","strokeWidth":2.6,"strokeDash":[0.1,6],"strokeCap":"round"},"encoding":{"detail":{"field":"id"},"order":{"field":"n"}}},
{"data":{"name":"dotA"},"mark":{"type":"point","filled":true,"size":110,"fill":"#2a3f8f"},"encoding":{"shape":{"field":"mk","type":"nominal","scale":null}}},
{"data":{"name":"badgesA"},"mark":{"type":"point","filled":true,"size":10000,"fill":"#fff","stroke":"#2a3f8f","strokeWidth":1.5,"strokeDash":[1,2.5]},"encoding":{"shape":{"field":"kind","type":"nominal"}}},
{"data":{"name":"badgesA"},"mark":{"type":"point","filled":true,"size":1600,"fill":"#fff","stroke":"#1d1d1b","strokeWidth":2.6},"encoding":{"shape":{"field":"effect","type":"nominal"}}},
{"data":{"name":"badgesA"},"transform":[{"filter":"datum.effect==='ponctuel'"}],"mark":{"type":"point","filled":true,"size":900,"fill":"#f26ca7","shape":"circle"}},
{"data":{"name":"badgesA"},"transform":[{"filter":"datum.effect==='structurel'"}],"mark":{"type":"point","filled":true,"size":900,"fill":"#f26ca7","shape":"M-0.8,-1.13 H0.8 Q1,-1.13 1,-0.93 V0.93 Q1,1.13 0.8,1.13 H-0.8 Q-1,1.13 -1,0.93 V-0.93 Q-1,-1.13 -0.8,-1.13 Z"}},
{"data":{"name":"badgesA"},"transform":[{"filter":"datum.effect==='ponctuel'&&datum.nature==='mixte'"}],"mark":{"type":"point","filled":true,"size":900,"fill":"#c8233c","shape":"M0,-1 A1,1 0 0 0 0,1 Z"}},
{"data":{"name":"badgesA"},"transform":[{"filter":"datum.effect==='structurel'&&datum.nature==='mixte'"}],"mark":{"type":"point","filled":true,"size":900,"fill":"#c8233c","shape":"M0,-1.13 H-0.8 Q-1,-1.13 -1,-0.93 V0.93 Q-1,1.13 -0.8,1.13 H0 Z"}},
{"data":{"name":"badgesA"},"transform":[{"filter":"datum.transverse"}],"mark":{"type":"point","filled":false,"size":1600,"stroke":"#ffcc00","strokeWidth":6,"strokeCap":"round","shape":"M-0.95,-0.55 L-0.5,-0.95 M0.5,-0.95 L0.95,-0.55 M0.95,0.55 L0.5,0.95 M-0.5,0.95 L-0.95,0.55"}},
{"data":{"name":"badgesA"},"mark":{"type":"point","filled":true,"size":784,"xOffset":37},"encoding":{"shape":{"field":"b1","type":"nominal"},"color":{"field":"b1","type":"nominal"}}},
{"data":{"name":"badgesA"},"transform":[{"filter":"datum.b2"}],"mark":{"type":"point","filled":true,"size":784,"xOffset":62},"encoding":{"shape":{"field":"b2","type":"nominal"},"color":{"field":"b2","type":"nominal"}}},
{"data":{"name":"badgesA"},"transform":[{"filter":"datum.b3"}],"mark":{"type":"point","filled":true,"size":784,"xOffset":88},"encoding":{"shape":{"field":"b3","type":"nominal"},"color":{"field":"b3","type":"nominal"}}},
{"data":{"name":"barsA"},"mark":{"type":"text","fill":"#fff","font":"DejaVu Serif","fontWeight":"bold","fontSize":18},"encoding":{"y":{"field":"val","stack":"zero","bandPosition":0.5},"order":{"field":"k"},"detail":{"field":"series"},"text":{"condition":{"test":"datum.val>7||datum.label==='?'","value":""},"field":"label","type":"nominal"}}},
{"data":{"name":"barsA"},"transform":[{"filter":"datum.val>7"}],"mark":{"type":"text","fill":"#fff","dy":-19,"font":"DejaVu Serif","fontWeight":"bold","fontSize":18},"encoding":{"y":{"field":"val","stack":"zero","bandPosition":0.5},"order":{"field":"k"},"detail":{"field":"series"},"text":{"field":"label","type":"nominal"}}},
{"data":{"name":"barsA"},"transform":[{"filter":"datum.pos===0"}],"mark":{"type":"text","fill":"#2a3f8f","fontWeight":"bold","fontSize":25},"encoding":{"y":{"field":"val","stack":"zero","bandPosition":0.5},"order":{"field":"k"},"detail":{"field":"series"},"text":{"field":"label","type":"nominal"}}},
{"data":{"name":"catsE"},"mark":{"type":"text","dy":18,"fontWeight":"bold","fontSize":21},"encoding":{"text":{"field":"name","type":"nominal"}}}
]},
{"width":1249,"height":295,"encoding":{"x":{"field":"pos","type":"quantitative","axis":null,"scale":{"domain":[-1,-0.5,0,1,2,3,4,5,6,6.5],"range":[-13,109,231,451,593,739,902,1040,1178,1249],"nice":false,"zero":false}},"y":{"field":"val","type":"quantitative","scale":{"domain":[0,6],"range":[244,106],"nice":false,"zero":false},"axis":{"values":[0,2,4,6],"title":null,"grid":false,"domain":false,"ticks":false,"offset":-31,"labelPadding":0,"labelOffset":-7,"labelFont":"Liberation Sans","labelFontWeight":"bold","labelFontSize":23,"labelColor":"#2a3f8f","labelFlush":false,"labelOverlap":false}}},
"layer":[
{"data":{"name":"ticksP"},"mark":{"type":"rule","stroke":"#a0aedd","strokeWidth":2,"strokeDash":[2,3]},"encoding":{"x2":{"field":"end"}}},
{"data":{"name":"cadreP"},"mark":{"type":"rect","fill":"#fff","stroke":"#2a3f8f","strokeWidth":1.2,"strokeDash":[1,2],"cornerRadius":11},"encoding":{"x2":{"field":"end"},"y2":{"field":"top"}}},
{"data":{"name":"titreP"},"mark":{"type":"text","angle":270,"font":"DejaVu Serif","fontWeight":"bold","fontSize":20},"encoding":{"text":{"field":"t","type":"nominal"}}},
{"data":{"name":"catsP"},"mark":{"type":"rect","width":104,"height":10,"yOffset":5,"fill":{"gradient":"linear","x1":0,"y1":0,"x2":0,"y2":1,"stops":[{"offset":0,"color":"rgba(70,70,60,0.25)"},{"offset":1,"color":"rgba(70,70,60,0)"}]}}},
{"data":{"name":"barsP"},"mark":{"type":"bar","size":119,"fill":{"gradient":"linear","x1":0,"y1":0,"x2":1,"y2":0,"stops":[{"offset":0,"color":"rgba(70,70,60,0)"},{"offset":0.915,"color":"rgba(70,70,60,0)"},{"offset":0.915,"color":"rgba(70,70,60,0.32)"},{"offset":1,"color":"rgba(70,70,60,0)"}]}},"encoding":{"y":{"field":"val","stack":"zero"},"order":{"field":"k"},"detail":{"field":"series"}}},
{"data":{"name":"barsP"},"mark":{"type":"bar","size":99},"encoding":{"y":{"field":"val","stack":"zero"},"order":{"field":"k"},"detail":{"field":"series"},"fill":{"field":"series","type":"nominal"}}},
{"data":{"name":"axe"},"mark":{"type":"rule","stroke":"#2a3f8f","strokeWidth":3},"encoding":{"x2":{"field":"end"}}},
{"data":{"name":"brP"},"mark":{"type":"line","stroke":"#2a3f8f","strokeWidth":1.6},"encoding":{"detail":{"field":"id"},"order":{"field":"n"}}},
{"data":{"name":"linkP"},"mark":{"type":"line","stroke":"#2a3f8f","strokeWidth":2.6,"strokeDash":[0.1,6],"strokeCap":"round"},"encoding":{"detail":{"field":"id"},"order":{"field":"n"}}},
{"data":{"name":"dotP"},"mark":{"type":"point","filled":true,"size":110,"fill":"#2a3f8f"},"encoding":{"shape":{"field":"mk","type":"nominal","scale":null}}},
{"data":{"name":"badgesP"},"mark":{"type":"point","filled":true,"size":10000,"fill":"#fff","stroke":"#2a3f8f","strokeWidth":1.5,"strokeDash":[1,2.5]},"encoding":{"shape":{"field":"kind","type":"nominal"}}},
{"data":{"name":"badgesP"},"mark":{"type":"point","filled":true,"size":1600,"fill":"#fff","stroke":"#1d1d1b","strokeWidth":2.6},"encoding":{"shape":{"field":"effect","type":"nominal"}}},
{"data":{"name":"badgesP"},"transform":[{"filter":"datum.effect==='ponctuel'"}],"mark":{"type":"point","filled":true,"size":900,"fill":"#f26ca7","shape":"circle"}},
{"data":{"name":"badgesP"},"transform":[{"filter":"datum.effect==='structurel'"}],"mark":{"type":"point","filled":true,"size":900,"fill":"#f26ca7","shape":"M-0.8,-1.13 H0.8 Q1,-1.13 1,-0.93 V0.93 Q1,1.13 0.8,1.13 H-0.8 Q-1,1.13 -1,0.93 V-0.93 Q-1,-1.13 -0.8,-1.13 Z"}},
{"data":{"name":"badgesP"},"transform":[{"filter":"datum.effect==='ponctuel'&&datum.nature==='mixte'"}],"mark":{"type":"point","filled":true,"size":900,"fill":"#c8233c","shape":"M0,-1 A1,1 0 0 0 0,1 Z"}},
{"data":{"name":"badgesP"},"transform":[{"filter":"datum.effect==='structurel'&&datum.nature==='mixte'"}],"mark":{"type":"point","filled":true,"size":900,"fill":"#c8233c","shape":"M0,-1.13 H-0.8 Q-1,-1.13 -1,-0.93 V0.93 Q-1,1.13 -0.8,1.13 H0 Z"}},
{"data":{"name":"badgesP"},"mark":{"type":"point","filled":true,"size":784,"xOffset":37},"encoding":{"shape":{"field":"b1","type":"nominal"},"color":{"field":"b1","type":"nominal"}}},
{"data":{"name":"badgesP"},"transform":[{"filter":"datum.b2"}],"mark":{"type":"point","filled":true,"size":784,"xOffset":62},"encoding":{"shape":{"field":"b2","type":"nominal"},"color":{"field":"b2","type":"nominal"}}},
{"data":{"name":"badgesP"},"transform":[{"filter":"datum.b3"}],"mark":{"type":"point","filled":true,"size":784,"xOffset":88},"encoding":{"shape":{"field":"b3","type":"nominal"},"color":{"field":"b3","type":"nominal"}}},
{"data":{"name":"barsP"},"mark":{"type":"text","fill":"#fff","font":"DejaVu Serif","fontWeight":"bold","fontSize":18},"encoding":{"y":{"field":"val","stack":"zero","bandPosition":0.5},"order":{"field":"k"},"detail":{"field":"series"},"text":{"field":"label","type":"nominal"}}},
{"data":{"name":"catsP"},"mark":{"type":"text","dy":21,"fontWeight":"bold","fontSize":21},"encoding":{"text":{"field":"name","type":"nominal"}}}
]},
{"width":1249,"height":40,"encoding":{"x":{"field":"pos","type":"quantitative","axis":null,"scale":{"domain":[-1,-0.5,0,1,2,3,4,5,6,6.5],"range":[-13,109,231,451,593,739,902,1040,1178,1249],"nice":false,"zero":false}},"y":{"field":"val","type":"quantitative","axis":null,"scale":{"domain":[0,1],"range":[17,5],"nice":false,"zero":false}}},
"layer":[
{"data":{"name":"brF"},"mark":{"type":"line","stroke":"#2a3f8f","strokeWidth":1.6},"encoding":{"detail":{"field":"id"},"order":{"field":"n"}}},
{"data":{"name":"filieres"},"mark":{"type":"text","fontWeight":"bold","fontSize":22},"encoding":{"text":{"field":"name","type":"nominal"}}}
]},
{"width":1249,"height":125,"encoding":{"x":{"field":"col","type":"quantitative","axis":null,"scale":{"domain":[0,1,2,3],"range":[145,485,862,1117],"nice":false,"zero":false}},"y":{"field":"row","type":"quantitative","axis":null,"scale":{"domain":[0,1,2,3,4],"range":[16,41,65,90,114],"nice":false,"zero":false}}},
"layer":[
{"data":{"name":"legendeBas"},"mark":{"type":"square","size":342,"strokeWidth":1.6,"strokeDash":[4,4]},"encoding":{"stroke":{"condition":{"test":"datum.series==='Infrastructures hydrauliques'","value":"#2a3f8f"},"value":null},"fill":{"condition":[
{"test":"datum.series==='Élevage - Lait'","value":"#bcd1ec"},
{"test":"datum.series==='Fab. de machines'","value":{"gradient":"linear","x1":0,"y1":0,"x2":1,"y2":1,"stops":[{"offset":0,"color":"#a0509d"},{"offset":0.125,"color":"#a0509d"},{"offset":0.125,"color":"#a3c3e6"},{"offset":0.25,"color":"#a3c3e6"},{"offset":0.25,"color":"#a0509d"},{"offset":0.375,"color":"#a0509d"},{"offset":0.375,"color":"#a3c3e6"},{"offset":0.5,"color":"#a3c3e6"},{"offset":0.5,"color":"#a0509d"},{"offset":0.625,"color":"#a0509d"},{"offset":0.625,"color":"#a3c3e6"},{"offset":0.75,"color":"#a3c3e6"},{"offset":0.75,"color":"#a0509d"},{"offset":0.875,"color":"#a0509d"},{"offset":0.875,"color":"#a3c3e6"},{"offset":1,"color":"#a3c3e6"}]}},
{"test":"datum.series==='Protec. cultures'","value":{"gradient":"linear","x1":0,"y1":0,"x2":1,"y2":1,"stops":[{"offset":0,"color":"#a0509d"},{"offset":0.16,"color":"#a0509d"},{"offset":0.16,"color":"#f58220"},{"offset":0.25,"color":"#f58220"},{"offset":0.25,"color":"#a0509d"},{"offset":0.41,"color":"#a0509d"},{"offset":0.41,"color":"#f58220"},{"offset":0.5,"color":"#f58220"},{"offset":0.5,"color":"#a0509d"},{"offset":0.66,"color":"#a0509d"},{"offset":0.66,"color":"#f58220"},{"offset":0.75,"color":"#f58220"},{"offset":0.75,"color":"#a0509d"},{"offset":0.91,"color":"#a0509d"},{"offset":0.91,"color":"#f58220"},{"offset":1,"color":"#f58220"}]}},
{"test":"datum.series==='Engrais'||datum.series==='Fruits et légumes'","value":{"gradient":"linear","x1":0,"y1":0,"x2":1,"y2":1,"stops":[{"offset":0,"color":"#f58220"},{"offset":0.16,"color":"#f58220"},{"offset":0.16,"color":"#a0509d"},{"offset":0.25,"color":"#a0509d"},{"offset":0.25,"color":"#f58220"},{"offset":0.41,"color":"#f58220"},{"offset":0.41,"color":"#a0509d"},{"offset":0.5,"color":"#a0509d"},{"offset":0.5,"color":"#f58220"},{"offset":0.66,"color":"#f58220"},{"offset":0.66,"color":"#a0509d"},{"offset":0.75,"color":"#a0509d"},{"offset":0.75,"color":"#f58220"},{"offset":0.91,"color":"#f58220"},{"offset":0.91,"color":"#a0509d"},{"offset":1,"color":"#a0509d"}]}}
],"field":"series","type":"nominal"}}},
{"data":{"name":"legendeBas"},"mark":{"type":"text","align":"left","dx":13,"dy":2,"fontSize":19.5},"encoding":{"text":{"field":"series","type":"nominal"}}}
]}
]}
